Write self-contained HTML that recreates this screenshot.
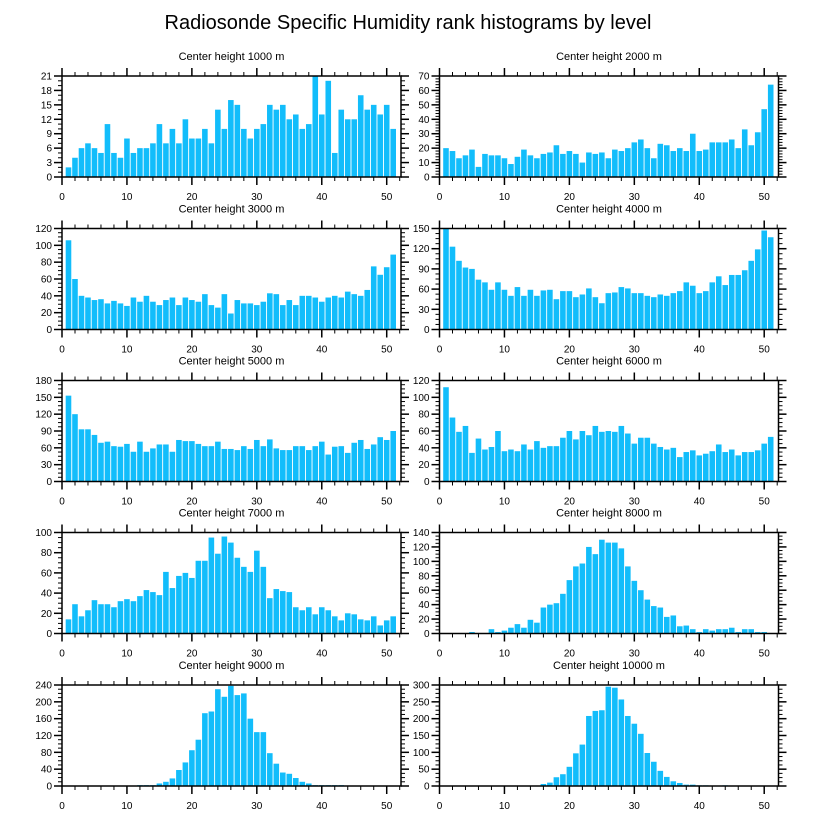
<!DOCTYPE html>
<html><head><meta charset="utf-8"><style>
html,body{margin:0;padding:0;background:#fff;}
svg{display:block;font-family:"Liberation Sans",sans-serif;}
</style></head><body>
<svg id="chart" width="816" height="824" viewBox="0 0 816 824">
<text x="408" y="29" text-anchor="middle" font-size="20">Radiosonde Specific Humidity rank histograms by level</text>
</svg>
<script>
const panelTitles = ["Center height 1000 m","Center height 2000 m","Center height 3000 m","Center height 4000 m","Center height 5000 m","Center height 6000 m","Center height 7000 m","Center height 8000 m","Center height 9000 m","Center height 10000 m"];
const yMax = [21,70,120,150,180,120,100,140,240,300];
const yStep = [3,10,20,30,30,20,20,20,40,50];
const xTicks = [0,10,20,30,40,50];
const h1000 = [2,4,6,7,6,5,11,5,4,8,5,6,6,7,11,7,10,7,12,8,8,10,7,14,10,16,15,10,8,10,11,15,14,15,12,13,10,11,21,13,20,5,14,12,12,17,14,15,13,15,10];
const h2000 = [20,18,13,15,19,7,16,15,15,13,9,14,19,15,13,16,17,22,16,18,16,10,17,16,17,13,19,18,20,24,26,20,13,23,22,18,20,18,30,18,19,24,24,24,26,20,33,22,31,47,64];
const h3000 = [106,60,40,38,35,36,31,34,31,28,38,33,40,33,29,35,38,29,38,35,33,42,29,26,42,19,35,31,31,29,33,43,42,29,35,29,40,40,38,33,38,40,38,45,42,40,47,75,65,74,89];
const h4000 = [150,123,102,92,90,74,70,59,70,59,50,63,50,59,50,58,59,45,57,57,48,52,61,48,39,54,55,63,61,54,54,50,48,52,50,54,57,70,65,54,57,70,79,66,81,81,88,102,119,147,137];
const h5000 = [153,120,93,93,83,69,71,63,62,67,53,71,53,59,66,66,53,74,72,72,67,63,63,71,58,58,56,63,58,74,63,75,59,56,56,63,63,56,63,71,48,62,63,51,69,74,58,66,79,74,90];
const h6000 = [112,76,59,66,34,51,38,41,60,36,38,36,44,38,48,40,42,42,52,60,50,60,55,66,59,60,59,66,57,45,52,52,45,41,38,40,29,35,37,31,33,36,44,35,38,31,35,35,37,45,53];
const h7000 = [14,29,17,23,33,29,29,26,32,34,32,37,43,41,38,61,45,57,60,55,72,72,95,79,96,90,75,66,61,82,66,35,44,42,41,26,23,26,19,26,23,17,13,20,19,14,13,17,8,13,17];
const h8000 = [0,0,0,0,2,0,0,6,2,4,8,13,8,19,15,36,40,42,55,74,93,97,120,110,130,126,126,118,93,73,60,47,38,36,23,25,10,11,6,2,6,4,6,6,8,2,6,6,2,2,0];
const h9000 = [0,0,0,0,0,0,0,0,0,0,0,2,2,2,6,10,18,38,56,85,110,173,177,230,212,238,216,220,160,128,128,78,53,32,29,19,10,6,2,2,2,2,2,1,0,1,0,0,0,0,0];
const h10000 = [0,0,0,0,0,0,0,0,0,0,0,0,0,0,1,6,10,26,35,57,97,123,208,223,225,295,292,257,208,185,155,98,72,45,27,14,9,4,4,2,2,1,1,2,0,0,0,0,0,0,0];
const series = [h1000,h2000,h3000,h4000,h5000,h6000,h7000,h8000,h9000,h10000];

const svg = document.getElementById('chart');
const NS = 'http://www.w3.org/2000/svg';
const colL = [62, 439.5], W = 339, rowT = [76, 228.5, 380.5, 532.5, 685], H = 101, XMAX = 52.2;
function mk(tag, attrs, parent){ const e=document.createElementNS(NS,tag); for(const k in attrs) e.setAttribute(k,attrs[k]); (parent||svg).appendChild(e); return e; }

series.forEach((vals, p) => {
  const L = colL[p%2], T = rowT[Math.floor(p/2)], B = T+H, R = L+W;
  const xs = v => L + v/XMAX*W;
  const ys = v => B - v/yMax[p]*H;
  const g = mk('g', {});
  
  
  const t = mk('text', {x:(L+R)/2, y:T-16, 'text-anchor':'middle', 'font-size':11}, g);
  t.textContent = panelTitles[p];
  
  
  vals.forEach((v, i) => {
    if (v <= 0) return;
    const x0 = xs(i+1-0.43), x1 = xs(i+1+0.43);
    const r = mk('rect', {x:x0, y:ys(v), width:x1-x0, height:B-ys(v), fill:'#12bdfb'}, g);
    
    
  });
  // x ticks
  for (let v = 0; v <= 52; v += 2) {
    const major = v % 10 === 0, len = major ? 8 : 4, x = xs(v);
    mk('line', {x1:x, x2:x, y1:B, y2:B+len, stroke:'#000', 'stroke-width':major?1.5:1}, g);
    mk('line', {x1:x, x2:x, y1:T, y2:T-len, stroke:'#000', 'stroke-width':major?1.5:1}, g);
  }
  xTicks.forEach(v => {
    const lb = mk('text', {x:xs(v), y:B+23, 'text-anchor':'middle', 'font-size':10}, g);
    lb.textContent = v;
    
    
  });
  // y ticks
  const minor = yStep[p]/ ( [3,10].includes(yStep[p]) ? yStep[p] === 3 ? 3 : 5 : 4 );
  for (let v = 0; v <= yMax[p]+1e-9; v += minor) {
    const vv = Math.round(v*1000)/1000;
    const major = Math.abs(vv/yStep[p] - Math.round(vv/yStep[p])) < 1e-6;
    const len = major ? 8 : 4, y = ys(vv);
    mk('line', {x1:L, x2:L-len, y1:y, y2:y, stroke:'#000', 'stroke-width':major?1.5:1}, g);
    mk('line', {x1:R, x2:R+len, y1:y, y2:y, stroke:'#000', 'stroke-width':major?1.5:1}, g);
    if (major) {
      const lb = mk('text', {x:L-10, y:y+3.5, 'text-anchor':'end', 'font-size':10}, g);
      lb.textContent = vv;
      
      
    }
  }
  const f = mk('rect', {x:L, y:T, width:W, height:H, fill:'none', stroke:'#000', 'stroke-width':1.5}, g);
  
  
});
</script>
</body></html>
